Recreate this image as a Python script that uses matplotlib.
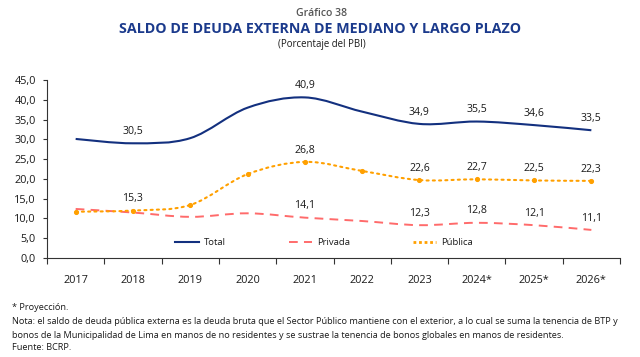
import matplotlib
matplotlib.use("Agg")
import matplotlib.pyplot as plt
from matplotlib.path import Path
from matplotlib.patches import PathPatch
from matplotlib.lines import Line2D
import numpy as np

# ---------------- data ----------------
years = ["2017", "2018", "2019", "2020", "2021", "2022", "2023", "2024*", "2025*", "2026*"]
total = [30.1, 29.0, 30.3, 38.0, 40.6, 37.0, 33.9, 34.5, 33.6, 32.3]
privada = [12.4, 11.5, 10.4, 11.3, 10.2, 9.35, 8.3, 8.9, 8.3, 7.1]
publica = [11.7, 12.0, 13.4, 21.2, 24.3, 22.0, 19.7, 19.9, 19.6, 19.5]

total_lbl_idx = [1, 4, 6, 7, 8, 9]
total_lbl = ["30,5", "40,9", "34,9", "35,5", "34,6", "33,5"]
publica_lbl_idx = [1, 4, 6, 7, 8, 9]
publica_lbl = ["15,3", "26,8", "22,6", "22,7", "22,5", "22,3"]
privada_lbl_idx = [4, 6, 7, 8, 9]
privada_lbl = ["14,1", "12,3", "12,8", "12,1", "11,1"]

yticks = [0, 5, 10, 15, 20, 25, 30, 35, 40, 45]

title_top = "Gráfico 38"
title_main = "SALDO DE DEUDA EXTERNA DE MEDIANO Y LARGO PLAZO"
subtitle = "(Porcentaje del PBI)"
notes = [
    "* Proyección.",
    "Nota: el saldo de deuda pública externa es la deuda bruta que el Sector Público mantiene con el exterior, a lo cual se suma la tenencia de BTP y",
    "bonos de la Municipalidad de Lima en manos de no residentes y se sustrae la tenencia de bonos globales en manos de residentes.",
    "Fuente: BCRP.",
]

# ---------------- style ----------------
FONT = ["Open Sans", "DejaVu Sans"]
plt.rcParams["font.family"] = FONT
C_TOTAL = "#13307f"
C_PRIV = "#ff6b6b"
C_PUB = "#ffa000"
C_TXT = "#1a1a1a"
C_TITLE = "#1b3a8c"

W, H = 640, 357
fig = plt.figure(figsize=(W / 100, H / 100), dpi=100)
ax = fig.add_axes([47 / W, 1 - 258 / H, (620 - 47) / W, (258 - 80) / H])

x = np.arange(len(years))


def smooth_path(xs, ys):
    xs = np.asarray(xs, float)
    ys = np.asarray(ys, float)
    n = len(xs)
    verts = [(xs[0], ys[0])]
    codes = [Path.MOVETO]
    for i in range(n - 1):
        p0 = np.array([xs[max(i - 1, 0)], ys[max(i - 1, 0)]])
        p1 = np.array([xs[i], ys[i]])
        p2 = np.array([xs[i + 1], ys[i + 1]])
        p3 = np.array([xs[min(i + 2, n - 1)], ys[min(i + 2, n - 1)]])
        c1 = p1 + (p2 - p0) / 6.0
        c2 = p2 - (p3 - p1) / 6.0
        verts += [tuple(c1), tuple(c2), tuple(p2)]
        codes += [Path.CURVE4] * 3
    return Path(verts, codes)


ax.add_patch(PathPatch(smooth_path(x, total), fill=False, edgecolor=C_TOTAL,
                       lw=1.5, capstyle="butt", zorder=3))
ax.add_patch(PathPatch(smooth_path(x, privada), fill=False, edgecolor=C_PRIV,
                       lw=1.4, linestyle=(0, (4.5, 3.2)), zorder=3))
ax.add_patch(PathPatch(smooth_path(x, publica), fill=False, edgecolor=C_PUB,
                       lw=1.5, linestyle=(0, (1, 2.0)), capstyle="round", zorder=3))
ax.plot(x, publica, "o", color=C_PUB, ms=2.7, zorder=4)

# data labels
def put_labels(idx, labels, series):
    for i, t in zip(idx, labels):
        ax.annotate(t, (x[i], series[i]), xytext=(0, 8.5), textcoords="offset points",
                    ha="center", va="center", fontsize=7.6, color=C_TXT, zorder=5)

put_labels(total_lbl_idx, total_lbl, total)
put_labels(publica_lbl_idx, publica_lbl, publica)
put_labels(privada_lbl_idx, privada_lbl, privada)

# axes
ax.set_xlim(-0.5, len(years) - 0.5)
ax.set_ylim(0, 45)
ax.set_yticks(yticks)
ax.set_yticklabels([f"{v:.1f}".replace(".", ",") for v in yticks])
ax.set_xticks(np.arange(-0.5, len(years), 1.0))
ax.set_xticklabels([])
ax.set_xticks(x, minor=True)
ax.set_xticklabels(years, minor=True)
ax.tick_params(axis="x", which="major", direction="out", length=4, width=0.8, color="#333333")
ax.tick_params(axis="x", which="minor", length=0, pad=12, labelsize=7.8, labelcolor=C_TXT)
ax.tick_params(axis="y", direction="out", length=3, width=0.8, color="#333333",
               pad=5, labelsize=7.8, labelcolor=C_TXT)
for s in ["top", "right"]:
    ax.spines[s].set_visible(False)
for s in ["left", "bottom"]:
    ax.spines[s].set_color("#333333")
    ax.spines[s].set_linewidth(0.8)
ax.set_facecolor("none")

# legend
handles = [
    Line2D([], [], color=C_TOTAL, lw=1.5),
    Line2D([], [], color=C_PRIV, lw=1.4, linestyle=(0, (4.5, 3.2))),
    Line2D([], [], color=C_PUB, lw=2.0, linestyle=(0, (1, 1.0))),
]
ax.legend(handles, ["Total", "Privada", "Pública"], ncol=3, frameon=False,
          loc="center", bbox_to_anchor=(0.484, 0.086), fontsize=6.8,
          handlelength=2.5, handletextpad=0.55, columnspacing=6.6, labelcolor=C_TXT)

# titles
fig.text(322 / W, 1 - 13 / H, title_top, ha="center", va="center", fontsize=7.6,
         color="#555555", fontweight="semibold")
fig.text(320 / W, 1 - 29 / H, title_main, ha="center", va="center", fontsize=10.3,
         color=C_TITLE, fontweight="bold")
fig.text(322 / W, 1 - 45 / H, subtitle, ha="center", va="center", fontsize=6.9,
         color=C_TXT)

# notes
note_y = [308, 321.5, 335, 348]
for t, yy in zip(notes, note_y):
    fig.text(12 / W, 1 - yy / H, t, ha="left", va="center", fontsize=6.6, color=C_TXT)

fig.savefig("out.png", dpi=100, facecolor="white")
